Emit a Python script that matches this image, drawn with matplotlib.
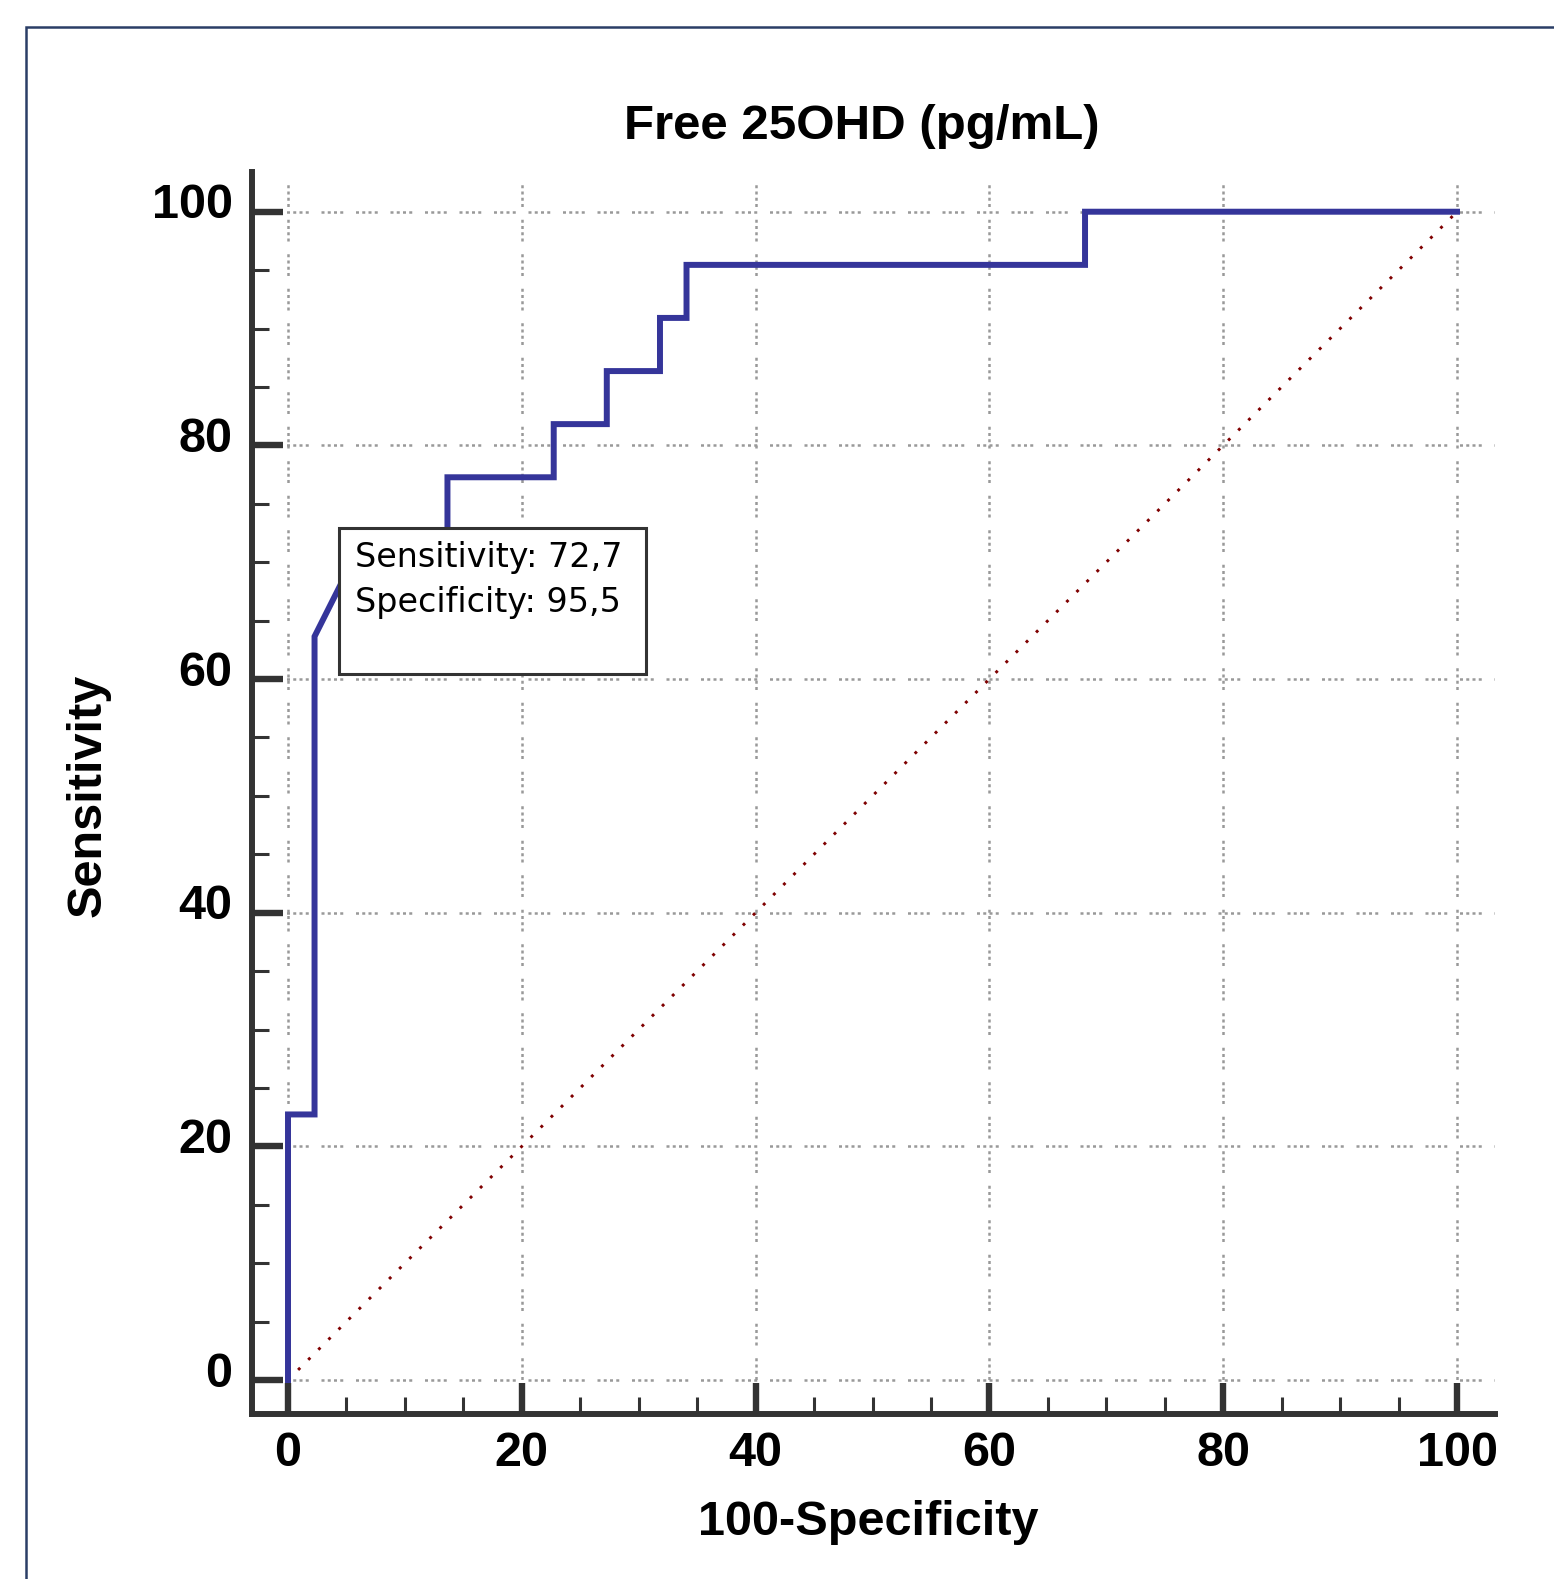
import matplotlib.pyplot as plt
from matplotlib.patches import Rectangle
from matplotlib.transforms import ScaledTranslation

# ROC data (100-Specificity, Sensitivity)
fpr = [0, 0, 2.27, 2.27, 4.55, 4.55, 13.64, 13.64, 22.73, 22.73, 27.27, 27.27,
       31.82, 31.82, 34.09, 34.09, 68.18, 68.18, 100]
sens = [0, 22.73, 22.73, 63.64, 68.18, 72.73, 72.73, 77.27, 77.27, 81.82, 81.82, 86.36,
        86.36, 90.91, 90.91, 95.45, 95.45, 100, 100]

# criterion shown in the box
cut_sens = 72.7
cut_spec = 95.5

ticks = [0, 20, 40, 60, 80, 100]
minor = [5, 10, 15, 25, 30, 35, 45, 50, 55, 65, 70, 75, 85, 90, 95]

W, H = 1554, 1579
fig = plt.figure(figsize=(W / 100, H / 100), dpi=100)

# outer frame
fig.patches.append(Rectangle((26 / W, -0.1), 1.2, 1 - 27 / H + 0.1, transform=fig.transFigure,
                             fill=False, ec='#2b3e66', lw=1.8))

ax = fig.add_axes([252 / W, 1 - 1414 / H, (1495 - 252) / W, (1414 - 172) / H])
ax.set_xlim(-3.08, 103.25)
ax.set_ylim(-2.91, 103.4)

dark = '#333333'
for s in ['top', 'right']:
    ax.spines[s].set_visible(False)
for s in ['left', 'bottom']:
    ax.spines[s].set_linewidth(4.3)
    ax.spines[s].set_color(dark)

ax.set_xticks(ticks)
ax.set_yticks(ticks)
ax.set_xticks(minor, minor=True)
ax.set_yticks(minor, minor=True)
ax.tick_params(which='major', direction='in', length=22, width=4.6, color=dark)
ax.tick_params(which='minor', direction='in', length=12, width=2.2, color=dark)
ax.tick_params(axis='x', which='major', pad=12)
ax.tick_params(axis='y', which='major', pad=14)
ax.set_xticklabels([str(t) for t in ticks], fontsize=35, fontweight='bold', family='Liberation Sans')
ax.set_yticklabels([str(t) for t in ticks], fontsize=35, fontweight='bold', family='Liberation Sans')
for t in ax.yaxis.get_major_ticks():
    t.label1.set_transform(t.label1.get_transform() + ScaledTranslation(0, 0.11, fig.dpi_scale_trans))

# grid
gstyle = (0, (1.2, 1.3, 1.2, 1.3, 1.2, 1.3, 1.2, 5.1))
for t in ticks:
    ax.axhline(t, color='#999999', lw=1.8, linestyle=gstyle, zorder=0)
    ax.axvline(t, color='#999999', lw=1.8, linestyle=gstyle, zorder=0)

# reference diagonal
ax.plot([0, 100], [0, 100], color='#7f0000', lw=2.1, linestyle=(0, (1, 3.9)), zorder=1)

# ROC curve
ax.plot(fpr, sens, color='#35359a', lw=4.3, solid_joinstyle='miter', zorder=2)

# criterion box, top-left corner at the criterion point
bx = 100 - cut_spec
ax.add_patch(Rectangle((bx - 0.1, cut_sens + 0.2 - 12.5), 26.2, 12.5, facecolor='white',
                       edgecolor=dark, lw=2.2, zorder=5))
ax.text(bx + 1.2, cut_sens - 3.1, 'Sensitivity: %s' % str(cut_sens).replace('.', ','),
        fontsize=24, family='DejaVu Sans', va='baseline', zorder=6)
ax.text(bx + 1.2, cut_sens - 6.95, 'Specificity: %s' % str(cut_spec).replace('.', ','),
        fontsize=24, family='DejaVu Sans', va='baseline', zorder=6)

# titles
fig.text(862 / W, 1 - 139 / H, 'Free 25OHD (pg/mL)', fontsize=35.5, fontweight='bold',
         family='Liberation Sans', ha='center', va='baseline')
fig.text(868 / W, 1 - 1535 / H, '100-Specificity', fontsize=35, fontweight='bold',
         family='Liberation Sans', ha='center', va='baseline')
fig.text(88 / W, 1 - 795 / H, 'Sensitivity', fontsize=35, fontweight='bold',
         family='Liberation Sans', ha='center', va='center', rotation=90)

plt.savefig('out.png', dpi=100)
